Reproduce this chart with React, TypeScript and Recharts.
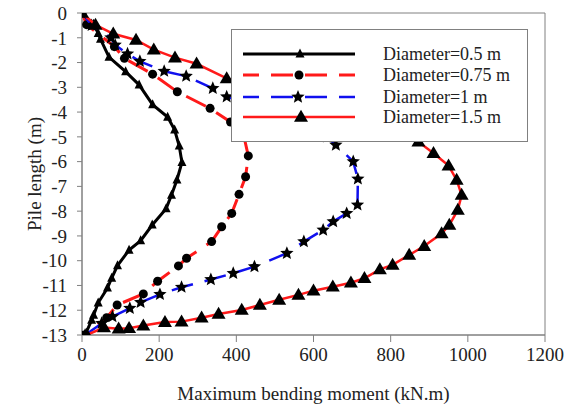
import React from 'react';
import { ScatterChart, Scatter, XAxis, YAxis, ReferenceArea } from 'recharts';

const xTicks = [0, 200, 400, 600, 800, 1000, 1200];
const yTicks = [0, -1, -2, -3, -4, -5, -6, -7, -8, -9, -10, -11, -12, -13];

// Diameter = 0.5 m
const depth05 = [0, -0.45, -0.82, -1.06, -1.78, -2.37, -2.9, -3.7, -4.2, -4.72, -5.37, -6.03, -6.74, -7.35, -7.9, -8.56, -9.19, -9.57, -10.2, -10.7, -11.1, -11.7, -12.2, -12.4, -13];
const moment05 = [0, 30, 42, 48, 70, 113, 148, 183, 222, 240, 252, 259, 246, 232, 218, 182, 152, 122, 92, 77, 66, 42, 30, 25, 8];

// Diameter = 0.75 m
const depth075 = [0, -0.47, -1.36, -1.83, -2.47, -3.18, -3.85, -4.4, -5.0, -5.77, -6.61, -7.32, -8.09, -8.63, -9.23, -9.9, -10.21, -10.83, -11.34, -11.79, -12.3, -13];
const moment075 = [0, 12, 84, 110, 183, 247, 332, 385, 420, 431, 424, 407, 388, 362, 336, 271, 250, 196, 159, 91, 64, 5];

// Diameter = 1 m
const depth1 = [0, -0.5, -1.0, -1.29, -1.65, -1.95, -2.35, -2.55, -3.04, -3.38, -3.8, -4.2, -4.7, -5.0, -5.33, -6.0, -6.7, -7.75, -8.09, -8.42, -8.76, -9.23, -9.7, -10.24, -10.51, -10.76, -11.07, -11.36, -11.68, -11.92, -12.26, -12.53, -13];
const moment1 = [0, 25, 75, 86, 118, 150, 213, 270, 339, 375, 450, 530, 600, 635, 658, 703, 715, 714, 686, 651, 625, 575, 531, 447, 392, 334, 258, 202, 152, 124, 79, 51, 8];

// Diameter = 1.5 m
const depth15 = [0, -0.48, -0.84, -1.09, -1.48, -1.8, -2.05, -2.64, -3.0, -3.4, -3.8, -4.2, -4.6, -4.9, -5.2, -5.66, -6.16, -6.74, -7.35, -7.95, -8.56, -8.9, -9.41, -9.77, -10.17, -10.35, -10.71, -10.89, -11.05, -11.21, -11.38, -11.58, -11.79, -11.99, -12.15, -12.3, -12.46, -12.48, -12.62, -12.73, -12.75, -12.7, -13];
const moment15 = [0, 35, 81, 140, 186, 241, 297, 375, 450, 530, 610, 690, 765, 820, 872, 911, 950, 971, 984, 974, 952, 932, 887, 848, 805, 772, 732, 697, 650, 600, 561, 511, 461, 414, 354, 310, 258, 215, 159, 122, 95, 57, 12];

const legendLabels = ['Diameter=0.5 m', 'Diameter=0.75 m', 'Diameter=1 m', 'Diameter=1.5 m'];

const toPoints = (depth: number[], moment: number[]) =>
  depth.map((d, i) => ({ x: moment[i], y: d }));

const FONT = '"Liberation Serif", "Times New Roman", serif';
const RED = '#ff1a1a';
const BLUE = '#1010ee';

const tri = (cx: number, cy: number, w: number, h: number, fill = '#000') => (
  <polygon
    points={`${cx},${cy - h * 0.6} ${cx + w / 2},${cy + h * 0.4} ${cx - w / 2},${cy + h * 0.4}`}
    fill={fill}
  />
);

const star = (cx: number, cy: number, r: number) => {
  const pts: string[] = [];
  for (let i = 0; i < 10; i++) {
    const rr = i % 2 === 0 ? r : r * 0.45;
    const a = -Math.PI / 2 + (i * Math.PI) / 5;
    pts.push(`${cx + rr * Math.cos(a)},${cy + rr * Math.sin(a)}`);
  }
  return <polygon points={pts.join(' ')} fill="#000" />;
};

const SmallTri = (p: any) => tri(p.cx, p.cy, 9, 9);
const BigTri = (p: any) => tri(p.cx, p.cy, 14, 12);
const Dot = (p: any) => <circle cx={p.cx} cy={p.cy} r={4.5} fill="#000" />;
const Star = (p: any) => star(p.cx, p.cy, 7);

const LegendBox = () => {
  const rows = [25, 46, 68, 88];
  return (
    <svg
      width={297}
      height={113}
      style={{ position: 'absolute', left: 231, top: 29, background: '#fff' }}
    >
      <rect x={0.5} y={0.5} width={296} height={112} fill="#fff" stroke="#808080" strokeWidth={1} />
      <line x1={12} x2={124} y1={rows[0]} y2={rows[0]} stroke="#000" strokeWidth={3} />
      {tri(69, rows[0], 9, 9)}
      <line x1={12} x2={124} y1={rows[1]} y2={rows[1]} stroke={RED} strokeWidth={3} strokeDasharray="22 12" strokeDashoffset={6} />
      <circle cx={68} cy={rows[1]} r={4.5} fill="#000" />
      <line x1={12} x2={124} y1={rows[2]} y2={rows[2]} stroke={BLUE} strokeWidth={2.5} strokeDasharray="22 12" strokeDashoffset={6} />
      {star(67, rows[2], 7)}
      <line x1={12} x2={124} y1={rows[3]} y2={rows[3]} stroke={RED} strokeWidth={2.5} />
      {tri(70, rows[3], 14, 12)}
      {legendLabels.map((t, i) => (
        <text key={t} x={152} y={rows[i]} dy="0.35em" fontFamily={FONT} fontSize={18} fill="#222">
          {t}
        </text>
      ))}
    </svg>
  );
};

export default function App() {
  const tickStyle = { fontFamily: FONT, fontSize: 19, fill: '#222' };
  const titleStyle = { fontFamily: FONT, fontSize: 19, fill: '#222' };
  return (
    <div style={{ position: 'absolute', left: 0, top: 0, width: 573, height: 408, background: '#fff' }}>
      <ScatterChart width={573} height={408} margin={{ top: 13, right: 28, bottom: 43, left: 22 }}>
        <XAxis
          type="number"
          dataKey="x"
          domain={[0, 1200]}
          ticks={xTicks}
          interval={0}
          tick={tickStyle}
          tickSize={7}
          tickMargin={6}
          height={30}
          stroke="#808080"
          allowDataOverflow
          label={{ value: 'Maximum bending moment (kN.m)', position: 'center', dy: 43, style: titleStyle }}
        />
        <YAxis
          type="number"
          dataKey="y"
          domain={[-13, 0]}
          ticks={yTicks}
          interval={0}
          tick={tickStyle}
          tickSize={5}
          tickMargin={10}
          width={60}
          stroke="#808080"
          allowDataOverflow
          label={{ value: 'Pile length (m)', angle: -90, position: 'center', dx: -18, style: titleStyle }}
        />
        <ReferenceArea x1={0} x2={1200} y1={-13} y2={0} fill="none" stroke="#808080" strokeWidth={1} />
        <Scatter
          data={toPoints(depth05, moment05)}
          fill="#000"
          line={{ stroke: '#000', strokeWidth: 3 }}
          lineType="joint"
          shape={SmallTri}
          isAnimationActive={false}
        />
        <Scatter
          data={toPoints(depth075, moment075)}
          fill="#000"
          line={{ stroke: RED, strokeWidth: 3, strokeDasharray: '22 12' }}
          lineType="joint"
          shape={Dot}
          isAnimationActive={false}
        />
        <Scatter
          data={toPoints(depth1, moment1)}
          fill="#000"
          line={{ stroke: BLUE, strokeWidth: 2.5, strokeDasharray: '22 12' }}
          lineType="joint"
          shape={Star}
          isAnimationActive={false}
        />
        <Scatter
          data={toPoints(depth15, moment15)}
          fill="#000"
          line={{ stroke: RED, strokeWidth: 2.5 }}
          lineType="joint"
          shape={BigTri}
          isAnimationActive={false}
        />
      </ScatterChart>
      <LegendBox />
    </div>
  );
}
